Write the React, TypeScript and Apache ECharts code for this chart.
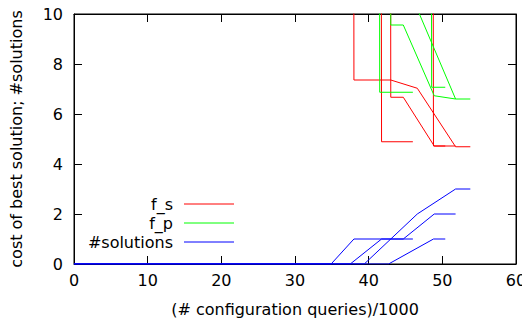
import React, { useEffect, useRef } from "react";
import * as echarts from "echarts";

// sentinel for "no solution found yet" (cost is infinite, drawn off the top of the plot)
const INF = 1000;

// x values: (# configuration queries)/1000, one array per run (f_p may be sampled separately)
const runA_x = [0, 37.5, 41.75, 46.0];
const runA_xp = [0, 37.5, 41.5, 46.0];
const runA_fs = [INF, INF, 4.89, 4.89];
const runA_fp = [INF, INF, 6.87, 6.87];
const runA_nsol = [0, 0, 1, 1];

const runB_x = [0, 34.9, 38.0, 43.0, 46.6, 51.8, 53.8];
const runB_xp = runB_x;
const runB_fs = [INF, INF, 7.36, 7.36, 7.03, 4.69, 4.69];
const runB_fp = [INF, INF, INF, INF, 10.2, 6.6, 6.6];
const runB_nsol = [0, 0, 1, 1, 2, 3, 3];

const runC_x = [0, 39.4, 43.0, 44.7, 48.9, 51.8];
const runC_xp = runC_x;
const runC_fs = [INF, INF, 6.67, 6.67, 4.72, 4.72];
const runC_fp = [INF, INF, 9.56, 9.56, 6.73, 6.6];
const runC_nsol = [0, 0, 1, 1, 2, 2];

const runD_x = [0, 42.7, 48.8, 50.4];
const runD_xp = [0, 42.7, 48.55, 50.4];
const runD_fs = [INF, INF, 4.72, 4.72];
const runD_fp = [INF, INF, 7.07, 7.07];
const runD_nsol = [0, 0, 1, 1];

const xTicks = [0, 10, 20, 30, 40, 50, 60];
const yTicks = [0, 2, 4, 6, 8, 10];
const legendNames = ["f_s", "f_p", "#solutions"];
const colors = ["#ff0000", "#00ff00", "#0000ff"];

const FONT = "DejaVu Sans";
const FS = 16;

const zip = (xs: number[], ys: number[]) => xs.map((x, i) => [x, ys[i]]);

export default function App() {
  const ref = useRef<HTMLDivElement>(null);
  useEffect(() => {
    if (!ref.current) return;
    const chart = echarts.init(ref.current, null, { renderer: "svg" });
    const runs = [
      { x: runA_x, xp: runA_xp, ys: [runA_fs, runA_fp, runA_nsol] },
      { x: runB_x, xp: runB_xp, ys: [runB_fs, runB_fp, runB_nsol] },
      { x: runC_x, xp: runC_xp, ys: [runC_fs, runC_fp, runC_nsol] },
      { x: runD_x, xp: runD_xp, ys: [runD_fs, runD_fp, runD_nsol] },
    ];
    const series: any[] = [];
    for (let k = 0; k < 3; k++) {
      runs.forEach((r, i) => {
        series.push({
          type: "line",
          name: legendNames[k] + "_" + i,
          data: zip(k === 1 ? r.xp : r.x, r.ys[k]),
          showSymbol: false,
          symbol: "none",
          clip: true,
          lineStyle: { color: colors[k], width: 1 },
          z: 3 + k,
        });
      });
    }
    const xMin = xTicks[0], xMax = xTicks[xTicks.length - 1];
    const yMin = yTicks[0], yMax = yTicks[yTicks.length - 1];
    const axisCommon = {
      axisLine: { show: true, onZero: false, lineStyle: { color: "#000", width: 1 } },
      axisTick: { show: true, inside: true, length: 8, lineStyle: { color: "#000" } },
      splitLine: { show: false },
    };
    const gLeft = 72, gTop = 14, gRight = 516;
    const legendGraphics: any[] = [];
    const legY = [204, 223, 242];
    legendNames.forEach((n, i) => {
      legendGraphics.push({
        type: "text",
        x: 173,
        y: legY[i],
        style: {
          text: n,
          fill: "#000",
          font: `${FS}px '${FONT}'`,
          align: "right",
          verticalAlign: "middle",
        },
      });
      legendGraphics.push({
        type: "line",
        shape: { x1: 184, y1: legY[i], x2: 234, y2: legY[i] },
        style: { stroke: colors[i], lineWidth: 1 },
      });
    });
    chart.setOption({
      animation: false,
      backgroundColor: "#fff",
      grid: { left: gLeft, top: gTop, width: gRight - gLeft, height: 250, show: true, borderColor: "#000", borderWidth: 1 },
      xAxis: [
        {
          type: "value",
          min: xMin,
          max: xMax,
          interval: 10,
          position: "bottom",
          name: "(# configuration queries)/1000",
          nameLocation: "middle",
          nameGap: 37,
          nameTextStyle: { fontFamily: FONT, fontSize: FS, color: "#000" },
          axisLabel: { fontFamily: FONT, fontSize: FS, color: "#000", margin: 8 },
          ...axisCommon,
        },
        {
          type: "value",
          min: xMin,
          max: xMax,
          interval: 10,
          position: "top",
          axisLabel: { show: false },
          ...axisCommon,
        },
      ],
      yAxis: [
        {
          type: "value",
          min: yMin,
          max: yMax,
          interval: 2,
          position: "left",
          name: "cost of best solution; #solutions",
          nameLocation: "middle",
          nameGap: 50,
          nameTextStyle: { fontFamily: FONT, fontSize: FS, color: "#000" },
          axisLabel: { fontFamily: FONT, fontSize: FS, color: "#000", margin: 11 },
          ...axisCommon,
        },
        {
          type: "value",
          min: yMin,
          max: yMax,
          interval: 2,
          position: "right",
          axisLabel: { show: false },
          ...axisCommon,
        },
      ],
      series,
      graphic: legendGraphics,
    });
    return () => chart.dispose();
  }, []);
  return <div ref={ref} style={{ width: 530, height: 327, margin: -8 }} />;
}
